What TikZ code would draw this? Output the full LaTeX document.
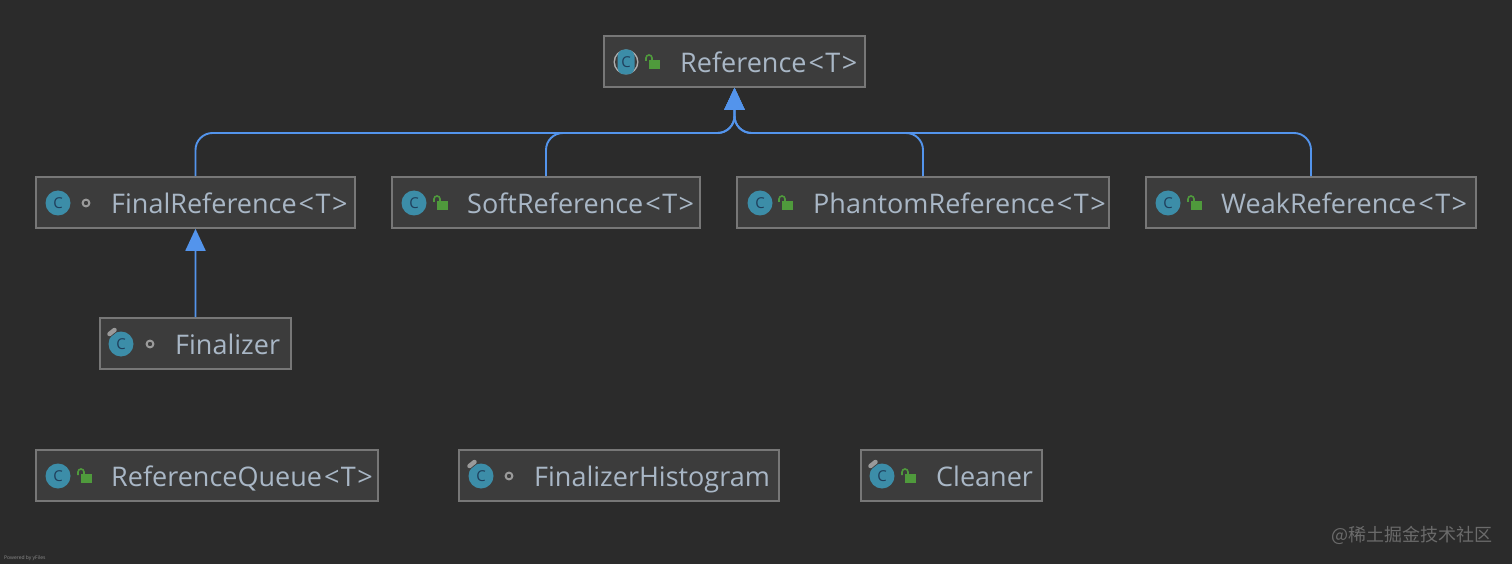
\documentclass[tikz,border=0pt]{standalone}
\usepackage{fontspec}
\setmainfont{Open Sans}
\newfontfamily\cjk{Noto Sans CJK SC}
\usetikzlibrary{arrows.meta,calc}
\definecolor{bg}{HTML}{2B2B2B}
\definecolor{boxfill}{HTML}{3C3C3C}
\definecolor{boxline}{HTML}{777777}
\definecolor{txt}{HTML}{A9B7C6}
\definecolor{edgeblue}{HTML}{5394EC}
\definecolor{cteal}{HTML}{3C8DA8}
\definecolor{cdark}{HTML}{1F3F5C}
\definecolor{lockg}{HTML}{4F9A3C}
\definecolor{pingrey}{HTML}{9A9A9A}
\tikzset{
  x=1pt,y=-1pt,
  classbox/.style={draw=boxline,fill=boxfill,line width=1.6pt,inner sep=0pt,minimum height=51pt},
  classtext/.style={text=txt,font=\fontsize{27}{30}\selectfont,anchor=base west,inner sep=0pt},
  cletter/.style={text=cdark,font=\fontsize{15}{16}\selectfont,inner sep=0pt},
  arrowtip/.style={-{Triangle[length=22pt,width=20pt,fill=edgeblue]}},
  inherit/.style={draw=edgeblue,line width=1.9pt,rounded corners=17pt,arrowtip},
}
\newcommand{\gen}{\kern2pt<\kern1.5pt T\kern1.5pt>}
\newcommand{\classbx}[4]{% name, left, right, top
  \node[classbox,minimum width={#3-#2}] (#1) at ({(#2+#3)/2},{#4+25.5}) {};}
\newcommand{\cicon}[3]{% name,x,y
  \fill[cteal] (#2,#3) circle (12.5);
  \node[cletter] (#1C) at (#2,#3) {C};}
\newcommand{\aicon}[3]{%
  \fill[pingrey!80] (#2,#3) circle (12.5);
  \fill[boxfill] (#2,#3) circle (11);
  \fill[cteal,rounded corners=7pt] ({#2-8.5},{#3-12.5}) rectangle ({#2+8.5},{#3+12.5});
  \node[cletter] (#1C) at (#2,#3) {C};}
\newcommand{\pinmark}[2]{%
  \draw[boxfill,line width=6pt] ({#1-11.5},{#2-10}) -- ({#1-6.5},{#2-14});
  \draw[pingrey,line width=4.5pt,line cap=round] ({#1-11.5},{#2-10}) -- ({#1-6.5},{#2-14});}
\newcommand{\lockicon}[2]{%
  \fill[lockg] ({#1-4},{#2-2}) rectangle ({#1+7},{#2+7});
  \draw[lockg,line width=1.6pt] ({#1-7},{#2-1}) -- ({#1-7},{#2-4}) arc (180:360:3) -- ({#1-1},{#2-1});}
\newcommand{\doticon}[2]{%
  \draw[pingrey,line width=2pt] (#1,#2) circle (3.4);}
\begin{document}
\begin{tikzpicture}
\useasboundingbox (0,0) rectangle (1512,564);
\fill[bg] (0,0) rectangle (1512,564);
% boxes
\classbx{ref}{604}{865}{36}
\classbx{final}{36}{355}{177}
\classbx{soft}{392}{700}{177}
\classbx{phantom}{737}{1109}{177}
\classbx{weak}{1146}{1476}{177}
\classbx{finalizer}{100}{291}{318}
\classbx{queue}{36}{378}{450}
\classbx{histogram}{459}{779}{450}
\classbx{cleaner}{861}{1042}{450}
% connectors
\coordinate (hub) at (ref.south |- 0,133);
\draw[inherit] (final.north) |- (hub) -- (ref.south);
\draw[inherit] (soft.north) |- (hub) -- (ref.south);
\draw[inherit] (phantom.north) |- (hub) -- (ref.south);
\draw[inherit] (weak.north) |- (hub) -- (ref.south);
\draw[draw=edgeblue,line width=1.9pt,arrowtip] (finalizer.north) .. controls ($(finalizer.north)!0.33!(final.south)$) and ($(finalizer.north)!0.66!(final.south)$) .. (final.south);
% icons and labels
\aicon{ref}{626}{62}\lockicon{653}{62}
\node[classtext] (reft) at (680,72.5) {Reference\gen};
\cicon{final}{58}{203}\doticon{86}{203}
\node[classtext] (finalt) at (111,213.5) {FinalReference\gen};
\cicon{soft}{414}{203}\lockicon{441}{203}
\node[classtext] (softt) at (467,213.5) {SoftReference\gen};
\cicon{phantom}{760}{203}\lockicon{786}{203}
\node[classtext] (phantomt) at (813,213.5) {PhantomReference\gen};
\cicon{weak}{1168}{203}\lockicon{1195}{203}
\node[classtext] (weakt) at (1221,213.5) {WeakReference\gen};
\cicon{finalizer}{121}{344}\pinmark{121}{344}\doticon{150}{344}
\node[classtext] (finalizert) at (175,354.5) {Finalizer};
\cicon{queue}{58}{476}\lockicon{85}{476}
\node[classtext] (queuet) at (111,486.5) {ReferenceQueue\gen};
\cicon{histogram}{481}{476}\pinmark{481}{476}\doticon{509}{476}
\node[classtext] (histogramt) at (534,486.5) {FinalizerHistogram};
\cicon{cleaner}{882}{476}\pinmark{882}{476}\lockicon{909}{476}
\node[classtext] (cleanert) at (936,486.5) {Cleaner};
% footers
\node[anchor=base west,inner sep=0pt,text=white!45!bg,font=\fontsize{5}{6}\selectfont] (powered) at (4,559) {Powered by yFiles};
\node[anchor=base east,inner sep=0pt,text=white!30!bg,font=\cjk\fontsize{18}{22}\selectfont] (mark) at (1493,541) {@稀土掘金技术社区};
\end{tikzpicture}
\end{document}
